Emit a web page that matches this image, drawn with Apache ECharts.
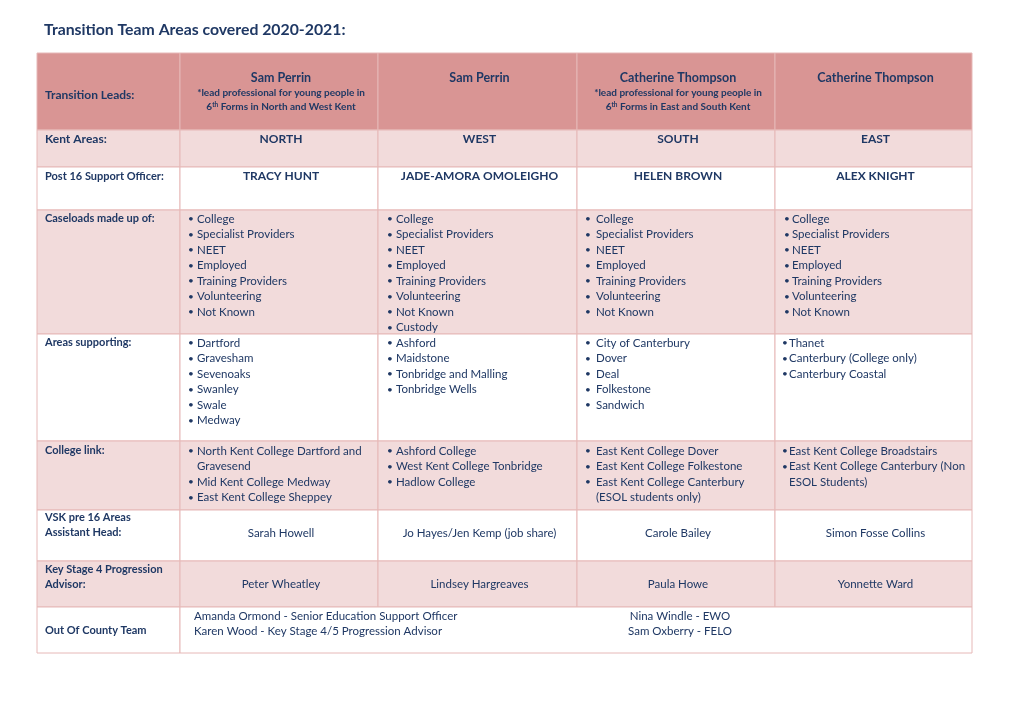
<!DOCTYPE html>
<html>
<head>
<meta charset="utf-8">
<script src="https://cdn.jsdelivr.net/npm/echarts@6/dist/echarts.min.js"></script>
<style>
  html, body { margin: 0; padding: 0; background: #ffffff; }
  #chart { width: 1020px; height: 721px; }
</style>
</head>
<body>
<div id="chart"></div>
<script>
// table grid (document units, same scale as the page)
const colEdges = [37, 180, 378, 577, 775, 972];
const rowEdges = [53, 130, 167, 210, 334, 441, 510, 561, 607, 653];

const titleText = 'Transition Team Areas covered 2020-2021:';

const rowLabels = [
  ['Transition Leads:'],
  ['Kent Areas:'],
  ['Post 16 Support Officer:'],
  ['Caseloads made up of:'],
  ['Areas supporting:'],
  ['College link:'],
  ['VSK pre 16 Areas', 'Assistant Head:'],
  ['Key Stage 4 Progression', 'Advisor:'],
  ['Out Of County Team']
];

const leads = ['Sam Perrin', 'Sam Perrin', 'Catherine Thompson', 'Catherine Thompson'];
const leadNotes = [
  ['*lead professional for young people in', '6{sup|th} Forms in North and West Kent'],
  [],
  ['*lead professional for young people in', '6{sup|th} Forms in East and South Kent'],
  []
];
const kentAreas = ['NORTH', 'WEST', 'SOUTH', 'EAST'];
const supportOfficers = ['TRACY HUNT', 'JADE-AMORA OMOLEIGHO', 'HELEN BROWN', 'ALEX KNIGHT'];

const caseloadTypes = ['College', 'Specialist Providers', 'NEET', 'Employed', 'Training Providers', 'Volunteering', 'Not Known'];
const caseloads = [
  caseloadTypes,
  caseloadTypes.concat(['Custody']),
  caseloadTypes,
  caseloadTypes
];
const areasSupporting = [
  ['Dartford', 'Gravesham', 'Sevenoaks', 'Swanley', 'Swale', 'Medway'],
  ['Ashford', 'Maidstone', 'Tonbridge and Malling', 'Tonbridge Wells'],
  ['City of Canterbury', 'Dover', 'Deal', 'Folkestone', 'Sandwich'],
  ['Thanet', 'Canterbury (College only)', 'Canterbury Coastal']
];
// each bullet may wrap onto several lines
const collegeLinks = [
  [['North Kent College Dartford and', 'Gravesend'], ['Mid Kent College Medway'], ['East Kent College Sheppey']],
  [['Ashford College'], ['West Kent College Tonbridge'], ['Hadlow College']],
  [['East Kent College Dover'], ['East Kent College Folkestone'], ['East Kent College Canterbury', '(ESOL students only)']],
  [['East Kent College Broadstairs'], ['East Kent College Canterbury (Non', 'ESOL Students)']]
];
const vskHeads = ['Sarah Howell', 'Jo Hayes/Jen Kemp (job share)', 'Carole Bailey', 'Simon Fosse Collins'];
const ks4Advisors = ['Peter Wheatley', 'Lindsey Hargreaves', 'Paula Howe', 'Yonnette Ward'];
const outOfCountyLeft = ['Amanda Ormond - Senior Education Support Officer', 'Karen Wood - Key Stage 4/5 Progression Advisor'];
const outOfCountyRight = ['Nina Windle - EWO', 'Sam Oxberry - FELO'];

// styles
const FONT = 'Lato';
const INK = '#1F3864';
const BORDER = '#E6B8B7';
const rowFills = ['#D99594', '#F2DBDB', '#ffffff', '#F2DBDB', '#ffffff', '#F2DBDB', '#ffffff', '#F2DBDB', '#ffffff'];
const LINE = 15.5;
// bullet / text indents per column; the east column sits tighter in some rows
const bulletIndent = [8, 9, 8, 9];
const textIndent = [17, 18, 19, 17];
const tightEast = [7, 14];

// ---- build cells
const cells = [];
for (let r = 0; r < rowEdges.length - 1; r++) {
  if (r === rowEdges.length - 2) {
    cells.push([colEdges[0], rowEdges[r], colEdges[1], rowEdges[r + 1], r]);
    cells.push([colEdges[1], rowEdges[r], colEdges[5], rowEdges[r + 1], r]);
  } else {
    for (let c = 0; c < colEdges.length - 1; c++) {
      cells.push([colEdges[c], rowEdges[r], colEdges[c + 1], rowEdges[r + 1], r]);
    }
  }
}

// ---- build texts
const texts = [];
function addText(x, y, text, opt) {
  texts.push(Object.assign({ x: x, y: y, text: text, size: 11.5, weight: 'normal', align: 'left' }, opt || {}));
}
const colMid = c => (colEdges[c + 1] + colEdges[c + 2]) / 2 + 2;
const colLeft = c => colEdges[c + 1];

// left labels
const labelOffsets = [42, 9, 9, 8, 8, 9, 7, 8, 23];
rowLabels.forEach((lines, r) => {
  lines.forEach((t, i) => {
    addText(colEdges[0] + 8, rowEdges[r] + labelOffsets[r] + i * LINE, t, { weight: 'bold', size: r === 0 || r === 1 ? 12 : 11 });
  });
});

// header row
leads.forEach((name, c) => {
  addText(colMid(c), rowEdges[0] + 25, name, { weight: 'bold', size: 12.5, align: 'center' });
  leadNotes[c].forEach((t, i) => {
    addText(colMid(c), rowEdges[0] + 40 + i * 14, t, { weight: 'bold', size: 10, align: 'center', rich: true });
  });
});
kentAreas.forEach((t, c) => addText(colMid(c), rowEdges[1] + 9, t, { weight: 'bold', size: 12, align: 'center' }));
supportOfficers.forEach((t, c) => addText(colMid(c), rowEdges[2] + 9, t, { weight: 'bold', size: 12, align: 'center' }));

function addBullets(r, lists, firstOffset, tight) {
  lists.forEach((items, c) => {
    let line = 0;
    const bi = tight && c === 3 ? tightEast[0] : bulletIndent[c];
    const ti = tight && c === 3 ? tightEast[1] : textIndent[c];
    items.forEach(item => {
      const parts = Array.isArray(item) ? item : [item];
      addText(colLeft(c) + bi, rowEdges[r] + firstOffset + line * LINE, '\u2022', { size: 10 });
      parts.forEach(p => {
        addText(colLeft(c) + ti, rowEdges[r] + firstOffset + line * LINE, p);
        line++;
      });
    });
  });
}
addBullets(3, caseloads, 9, false);
addBullets(4, areasSupporting, 9, true);
addBullets(5, collegeLinks, 10, true);

vskHeads.forEach((t, c) => addText(colMid(c), rowEdges[6] + 23, t, { align: 'center' }));
ks4Advisors.forEach((t, c) => addText(colMid(c), rowEdges[7] + 23, t, { align: 'center' }));
outOfCountyLeft.forEach((t, i) => addText(colLeft(0) + 14, rowEdges[8] + 9 + i * LINE, t));
outOfCountyRight.forEach((t, i) => addText((colEdges[3] + colEdges[4]) / 2 + 4, rowEdges[8] + 9 + i * LINE, t, { align: 'center' }));

// ---- chart
const chart = echarts.init(document.getElementById('chart'), null, { renderer: 'canvas' });

chart.setOption({
  backgroundColor: '#ffffff',
  animation: false,
  title: {
    text: titleText,
    left: 39,
    top: 17,
    textStyle: { fontFamily: FONT, fontSize: 15.8, fontWeight: 'bold', color: '#1F3864' }
  },
  grid: { left: 0, right: 0, top: 0, bottom: 0 },
  xAxis: { type: 'value', min: 0, max: 1020, show: false },
  yAxis: { type: 'value', min: 0, max: 721, inverse: true, show: false },
  series: [
    {
      type: 'custom',
      clip: false,
      silent: true,
      data: cells,
      renderItem: (params, api) => {
        const p0 = api.coord([api.value(0), api.value(1)]);
        const p1 = api.coord([api.value(2), api.value(3)]);
        return {
          type: 'rect',
          shape: { x: p0[0], y: p0[1], width: p1[0] - p0[0], height: p1[1] - p0[1] },
          style: { fill: rowFills[api.value(4)], stroke: BORDER, lineWidth: 1 }
        };
      }
    },
    {
      type: 'custom',
      clip: false,
      silent: true,
      data: texts.map(t => [t.x, t.y]),
      renderItem: (params, api) => {
        const t = texts[params.dataIndex];
        const p = api.coord([api.value(0), api.value(1)]);
        const style = {
          text: t.text,
          x: p[0],
          y: p[1],
          fill: INK,
          align: t.align,
          verticalAlign: 'middle',
          fontFamily: FONT,
          fontSize: t.size,
          fontWeight: t.weight
        };
        if (t.rich && t.text.indexOf('{sup|') >= 0) {
          // wrap plain runs so the superscript run can sit higher
          const m = t.text.match(/^(.*)\{sup\|(.*?)\}(.*)$/);
          style.text = '{n|' + m[1] + '}{sup|' + m[2] + '}{n|' + m[3] + '}';
          style.rich = {
            n: { fontFamily: FONT, fontSize: t.size, fontWeight: 'bold', color: INK },
            sup: { fontFamily: FONT, fontSize: 6.5, fontWeight: 'bold', color: INK, verticalAlign: 'top', padding: [0, 0, 4, 0] }
          };
        }
        return { type: 'text', style: style };
      }
    }
  ]
});
</script>
</body>
</html>
